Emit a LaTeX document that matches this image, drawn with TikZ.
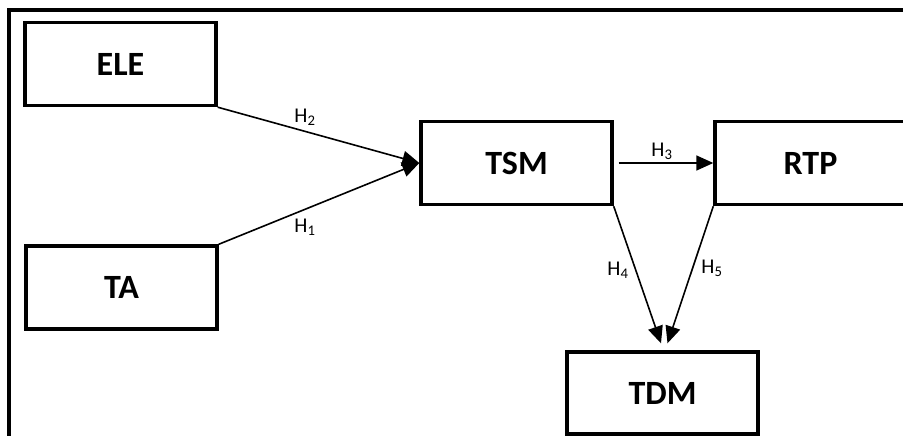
\documentclass[tikz,border=0pt]{standalone}
\usepackage{fontspec}
\setmainfont{Carlito}
\usetikzlibrary{arrows.meta}
\begin{document}
\begin{tikzpicture}[x=1pt,y=-1pt,
  box/.style={draw,line width=3.4pt,minimum width=191pt,minimum height=83pt,inner sep=0pt,font=\fontsize{34}{38}\selectfont\bfseries},
  arr/.style={line width=1.6pt,-{Triangle[length=17pt,width=15pt]}},
  hlab/.style={inner sep=0pt,font=\fontsize{21}{24}\selectfont}]
\useasboundingbox (0,0) rectangle (903,436);
\clip (0,0) rectangle (903,436);
\draw[line width=3.2pt] (910,10) -- (9,10) -- (9,445);
\node[box] (ELE) at (120.5,64) {ELE};
\node[box] (TA) at (121.5,287.5) {TA};
\node[box] (TSM) at (516.5,163) {TSM};
\node[box] (RTP) at (810.5,163) {RTP};
\node[box,minimum height=82pt] (TDM) at (662.5,393) {TDM};
\coordinate (t4) at ([shift={(-1.5,-7)}]TDM.north);
\coordinate (t5) at ([shift={(5,-7)}]TDM.north);
\draw[arr] (ELE.south east) -- (TSM.west);
\draw[arr] (TA.north east) -- (TSM.west);
\draw[arr] ([xshift=5pt]TSM.east) -- (RTP.west);
\draw[arr] (TSM.south east) -- (t4);
\draw[arr] (RTP.south west) -- (t5);
\node[hlab] (h2) at (305,117) {H\textsubscript{2}};
\node[hlab] (h1) at (305,227) {H\textsubscript{1}};
\node[hlab] (h3) at (662,151) {H\textsubscript{3}};
\node[hlab] (h4) at (618,270) {H\textsubscript{4}};
\node[hlab] (h5) at (712,268) {H\textsubscript{5}};
\end{tikzpicture}
\end{document}
